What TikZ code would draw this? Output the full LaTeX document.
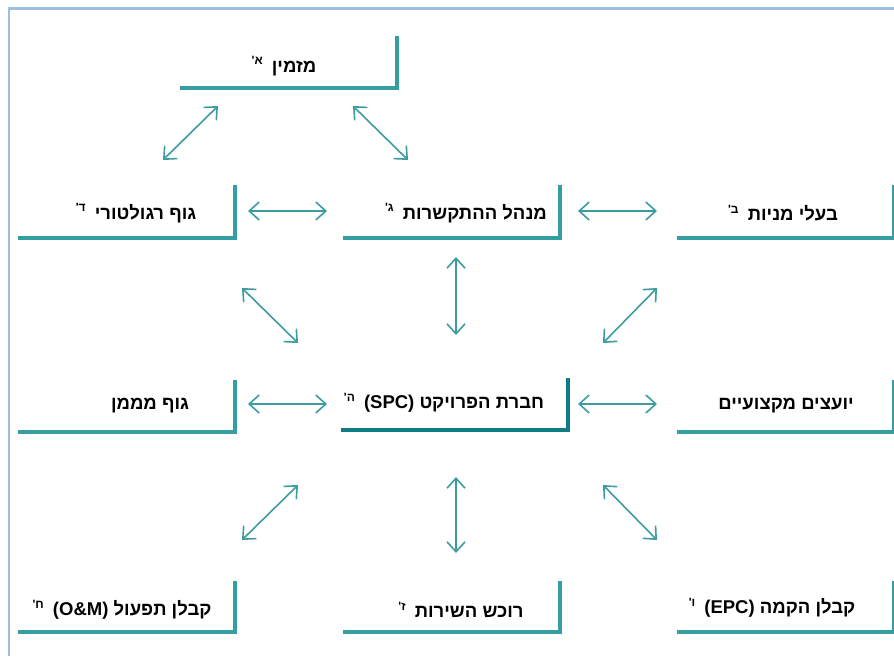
\documentclass[tikz,border=0pt]{standalone}
\usepackage{fontspec}
\usetikzlibrary{arrows.meta}
\TeXXeTstate=1
\newfontfamily\heb[Script=Hebrew]{Liberation Sans}
\definecolor{boxteal}{RGB}{52,158,160}
\definecolor{spcteal}{RGB}{16,124,132}
\definecolor{arrteal}{RGB}{60,156,158}
\definecolor{framebl}{RGB}{157,190,222}
\tikzset{
  boxline/.style={draw=boxteal, line width=3.6pt},
  spcline/.style={draw=spcteal, line width=4.6pt},
  lbl/.style={font=\heb\bfseries\fontsize{18.5}{21}\selectfont, inner sep=0pt, text=black},
  link/.style={draw=arrteal, line width=1.6pt, {Straight Barb[length=10pt,width=18pt]}-{Straight Barb[length=10pt,width=18pt]}},
  frame/.style={draw=framebl, line width=2.8pt}
}
\newcommand{\sfx}[1]{\hspace{4pt}\raisebox{0.75ex}{\fontsize{12}{14}\selectfont #1}}
\begin{document}
\begin{tikzpicture}[x=1pt,y=-1pt]
\useasboundingbox (0,0) rectangle (894,656);
\draw[frame] (9,656) -- (9,8.5) -- (894,8.5);

% boxes (bracket shapes)
\draw[boxline] (180,88) -- (397,88) -- (397,36);
\draw[boxline] (18,238) -- (235,238) -- (235,185);
\draw[boxline] (343,238) -- (560,238) -- (560,185);
\draw[boxline] (677,238) -- (894,238) -- (894,185);
\draw[boxline] (18,432) -- (235,432) -- (235,380);
\draw[spcline] (341,430) -- (568,430) -- (568,378);
\draw[boxline] (677,432) -- (894,432) -- (894,380);
\draw[boxline] (18,632) -- (235,632) -- (235,581);
\draw[boxline] (343,632) -- (560,632) -- (560,581);
\draw[boxline] (677,632) -- (894,632) -- (894,581);

% labels
\node[lbl] (a) at (284,66) {\beginR מזמין \sfx{א'}\endR};
\node[lbl] (d) at (136,213) {\beginR גוף רגולטורי \sfx{ד'}\endR};
\node[lbl] (g) at (466,213) {\beginR מנהל ההתקשרות \sfx{ג'}\endR};
\node[lbl] (b) at (783,213) {\beginR בעלי מניות \sfx{ב'}\endR};
\node[lbl] (m) at (150,406) {\beginR גוף מממן\endR};
\node[lbl] (h) at (444,403) {\beginR חברת הפרויקט \beginL(SPC)\endL{} \sfx{ה'}\endR};
\node[lbl] (y) at (786,406) {\beginR יועצים מקצועיים\endR};
\node[lbl] (c) at (122,610) {\beginR קבלן תפעול \beginL(O\&M)\endL{} \sfx{ח'}\endR};
\node[lbl] (z) at (461,610) {\beginR רוכש השירות \sfx{ז'}\endR};
\node[lbl] (v) at (772,608) {\beginR קבלן הקמה \beginL(EPC)\endL{} \sfx{ו'}\endR};

% connector end points
\coordinate (a1) at (218,106); \coordinate (d1) at (163,160);
\coordinate (a2) at (353,106); \coordinate (g1) at (408,160);
\coordinate (d2) at (248,211); \coordinate (g2) at (327,211);
\coordinate (g3) at (578,211); \coordinate (b1) at (657,211);
\coordinate (g4) at (456,257); \coordinate (h1) at (456,335);
\coordinate (d3) at (242,288); \coordinate (h2) at (298,343);
\coordinate (b2) at (657,288); \coordinate (h3) at (603,343);
\coordinate (m1) at (248,404); \coordinate (h4) at (327,404);
\coordinate (h5) at (578,404); \coordinate (y1) at (657,404);
\coordinate (h6) at (298,485); \coordinate (c1) at (242,540);
\coordinate (h7) at (456,477); \coordinate (z1) at (456,553);
\coordinate (h8) at (603,485); \coordinate (v1) at (657,540);

\draw[link] (a1) -- (d1);
\draw[link] (a2) -- (g1);
\draw[link] (d2) -- (g2);
\draw[link] (g3) -- (b1);
\draw[link] (g4) -- (h1);
\draw[link] (d3) -- (h2);
\draw[link] (b2) -- (h3);
\draw[link] (m1) -- (h4);
\draw[link] (h5) -- (y1);
\draw[link] (h6) -- (c1);
\draw[link] (h7) -- (z1);
\draw[link] (h8) -- (v1);
\end{tikzpicture}
\end{document}
